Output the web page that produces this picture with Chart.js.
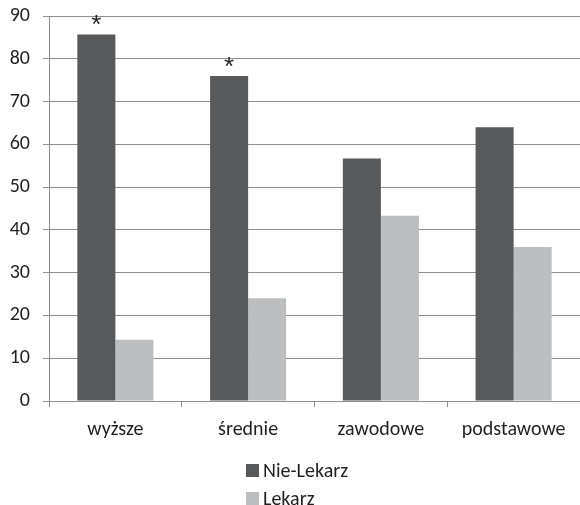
<!DOCTYPE html>
<html>
<head>
<meta charset="utf-8">
<script src="https://cdn.jsdelivr.net/npm/chart.js@4/dist/chart.umd.min.js"></script>
<style>
  html, body { margin: 0; padding: 0; background: #fff; }
  #wrap { width: 580px; height: 505px; }
</style>
</head>
<body>
<div id="wrap"><canvas id="c" width="580" height="505"></canvas></div>
<script>
// Education level categories and the share (%) in each group
const categories = ['wyższe', 'średnie', 'zawodowe', 'podstawowe'];
const nieLekarz = [85.7, 76.0, 56.7, 64.0];
const lekarz = [14.3, 24.0, 43.3, 36.0];
// Significance markers shown above the Nie-Lekarz bars
const significance = ['*', '*', '', ''];
const yTicks = [0, 10, 20, 30, 40, 50, 60, 70, 80, 90];

const FONT = 'Carlito, Lato, "Open Sans", sans-serif';
const TEXT = '#231f20';
const GRID = '#8f8f8f';

// Draws an asterisk above each flagged bar of the first dataset
const markerPlugin = {
  id: 'markers',
  afterDatasetsDraw(chart) {
    const ctx = chart.ctx;
    const meta = chart.getDatasetMeta(0);
    ctx.save();
    ctx.fillStyle = TEXT;
    ctx.font = '26px "Liberation Sans", sans-serif';
    ctx.textAlign = 'center';
    ctx.textBaseline = 'alphabetic';
    meta.data.forEach((bar, i) => {
      if (significance[i]) ctx.fillText(significance[i], bar.x, bar.y - 1);
    });
    ctx.restore();
  }
};

// Vertical legend, entries stacked with aligned swatches
const legendPlugin = {
  id: 'stackLegend',
  afterDraw(chart) {
    const ctx = chart.ctx;
    ctx.save();
    ctx.font = '20px ' + FONT;
    ctx.textBaseline = 'middle';
    ctx.textAlign = 'left';
    const left = 246, top = 464, box = 13, rowGap = 28;
    chart.data.datasets.forEach((ds, i) => {
      const y = top + i * rowGap;
      ctx.fillStyle = ds.backgroundColor;
      ctx.fillRect(left, y, box, box);
      ctx.fillStyle = TEXT;
      ctx.fillText(ds.label, left + box + 4, y + box / 2 + 1);
    });
    ctx.restore();
  }
};

new Chart(document.getElementById('c'), {
  type: 'bar',
  data: {
    labels: categories,
    datasets: [
      { label: 'Nie-Lekarz', data: nieLekarz, backgroundColor: '#58595b' },
      { label: 'Lekarz', data: lekarz, backgroundColor: '#bcbec0' }
    ]
  },
  options: {
    responsive: false,
    animation: false,
    devicePixelRatio: 1,
    layout: { padding: { top: 16, right: 0, bottom: 0, left: 0 } },
    datasets: { bar: { categoryPercentage: 0.573, barPercentage: 1.0 } },
    plugins: {
      legend: { display: false },
      tooltip: { enabled: false }
    },
    scales: {
      x: {
        grid: {
          offset: true,
          drawOnChartArea: false,
          drawTicks: true,
          tickLength: 6,
          color: GRID
        },
        border: { display: true, color: GRID, width: 1 },
        ticks: {
          color: TEXT,
          font: { family: FONT, size: 20 },
          padding: 11,
          maxRotation: 0
        },
        afterFit(scale) {
          scale.height = 104;
          scale.paddingLeft = 0;
          scale.paddingRight = 0;
        }
      },
      y: {
        min: 0,
        max: 90,
        afterBuildTicks(scale) { scale.ticks = yTicks.map(v => ({ value: v })); },
        grid: {
          color: GRID,
          lineWidth: 1,
          drawTicks: true,
          tickLength: 6
        },
        border: { display: true, color: GRID, width: 1 },
        ticks: {
          color: TEXT,
          font: { family: FONT, size: 20 },
          padding: 13
        },
        afterFit(scale) {
          scale.width = 49;
          scale.paddingTop = 0;
          scale.paddingBottom = 0;
        }
      }
    }
  },
  plugins: [markerPlugin, legendPlugin]
});
</script>
</body>
</html>
